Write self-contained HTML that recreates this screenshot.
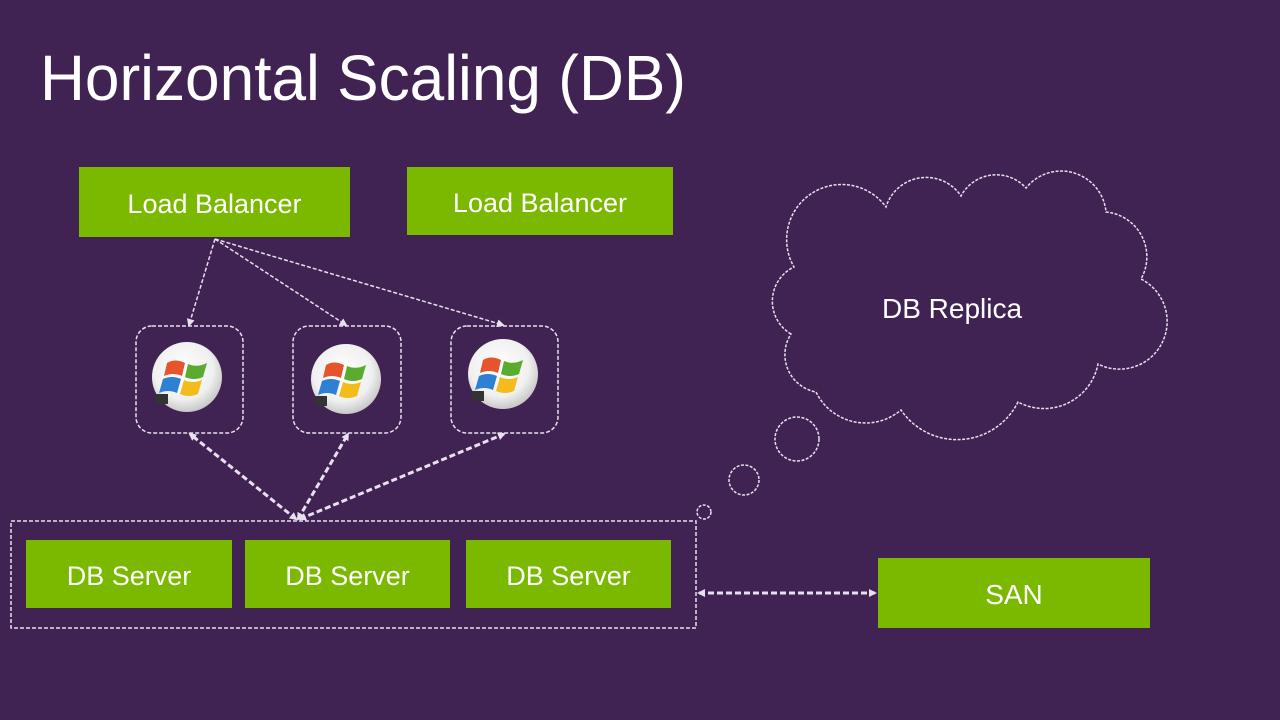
<!DOCTYPE html>
<html><head><meta charset="utf-8"><style>
html,body{margin:0;padding:0;background:#402253;}
svg{display:block}
text{font-family:"Liberation Sans",sans-serif;fill:#fff}
</style></head><body>
<svg width="1280" height="720" viewBox="0 0 1280 720" xmlns="http://www.w3.org/2000/svg">
<defs>
<radialGradient id="g" cx="0.45" cy="0.4" r="0.6"><stop offset="0" stop-color="#fff"/><stop offset="0.7" stop-color="#f0f0f0"/><stop offset="1" stop-color="#c8c8c8"/></radialGradient>
<marker id="a" markerWidth="8" markerHeight="8" refX="6" refY="4" orient="auto" markerUnits="userSpaceOnUse"><path d="M0,0 L8,4 L0,8 Z" fill="#e8e0ee"/></marker>
<marker id="as" markerWidth="8" markerHeight="8" refX="2" refY="4" orient="auto" markerUnits="userSpaceOnUse"><path d="M8,0 L0,4 L8,8 Z" fill="#e8e0ee"/></marker>
<g id="win">
<circle r="35" fill="url(#g)"/>
<path d="M-20,-14 q8,-5 18,0 l-3,13 q-9,-4 -18,0 z" fill="#e5542b"/>
<path d="M1,-13 q9,4 19,-1 l-4,14 q-9,4 -18,0 z" fill="#5aab2e"/>
<path d="M-24,2 q9,-4 18,0 l-4,14 q-9,-4 -18,0 z" fill="#2f7fd3"/>
<path d="M-3,3 q9,4 18,0 l-4,14 q-9,4 -18,0 z" fill="#f3bc1c"/>
<rect x="-31" y="17" width="12" height="10" fill="#333"/>
</g>
</defs>
<rect width="1280" height="720" fill="#402253"/>
<text x="40" y="100" font-size="64" textLength="646" lengthAdjust="spacingAndGlyphs">Horizontal Scaling (DB)</text>

<rect x="79" y="167" width="271" height="70" fill="#7bb800"/>
<text x="214.5" y="213" font-size="27" text-anchor="middle">Load Balancer</text>
<rect x="407" y="167" width="266" height="68" fill="#7bb800"/>
<text x="540" y="212" font-size="27" text-anchor="middle">Load Balancer</text>

<g stroke="#e8e0ee" stroke-width="1.5" stroke-dasharray="4,2" fill="none">
<line x1="215" y1="239" x2="189" y2="325" marker-end="url(#a)"/>
<line x1="215" y1="239" x2="346" y2="325" marker-end="url(#a)"/>
<line x1="215" y1="239" x2="503" y2="325" marker-end="url(#a)"/>
<rect x="136" y="326" width="107" height="107" rx="16"/>
<rect x="293" y="326" width="108" height="107" rx="16"/>
<rect x="451" y="326" width="107" height="107" rx="16"/>
<rect x="11" y="521" width="685" height="107"/>
</g>
<g stroke="#e8e0ee" stroke-width="3" stroke-dasharray="6,3" fill="none">
<line x1="296" y1="519" x2="190" y2="434" marker-end="url(#a)" marker-start="url(#as)"/>
<line x1="298" y1="519" x2="348" y2="434" marker-end="url(#a)" marker-start="url(#as)"/>
<line x1="300" y1="519" x2="504" y2="434" marker-end="url(#a)" marker-start="url(#as)"/>
<line x1="699" y1="593" x2="875" y2="593" marker-end="url(#a)" marker-start="url(#as)"/>
</g>
<use href="#win" x="187" y="377"/>
<use href="#win" x="346" y="379"/>
<use href="#win" x="503" y="374"/>

<rect x="26" y="540" width="206" height="68" fill="#7bb800"/>
<text x="129" y="585" font-size="27" text-anchor="middle">DB Server</text>
<rect x="245" y="540" width="205" height="68" fill="#7bb800"/>
<text x="347.5" y="585" font-size="27" text-anchor="middle">DB Server</text>
<rect x="466" y="540" width="205" height="68" fill="#7bb800"/>
<text x="568.5" y="585" font-size="27" text-anchor="middle">DB Server</text>
<rect x="878" y="558" width="272" height="70" fill="#7bb800"/>
<text x="1014" y="604" font-size="28" text-anchor="middle">SAN</text>

<g stroke="#e8e0ee" stroke-width="1.5" stroke-dasharray="3,1.5" fill="none">
<path transform="translate(-14,4)" d="M805,330 A38,38 0 0 1 808,263 A55,55 0 0 1 900,203 A42,42 0 0 1 975,192 A40,40 0 0 1 1040,184 A45,45 0 0 1 1120,208 A45,45 0 0 1 1155,275 A45,45 0 0 1 1112,360 A55,55 0 0 1 1032,398 A68,68 0 0 1 915,406 A55,55 0 0 1 830,388 A38,38 0 0 1 805,330 Z"/>
<circle cx="797" cy="439" r="22"/>
<circle cx="744" cy="480" r="15"/>
<circle cx="704" cy="512" r="7"/>
</g>
<text x="952" y="318" font-size="28" text-anchor="middle">DB Replica</text>
</svg>
</body></html>
